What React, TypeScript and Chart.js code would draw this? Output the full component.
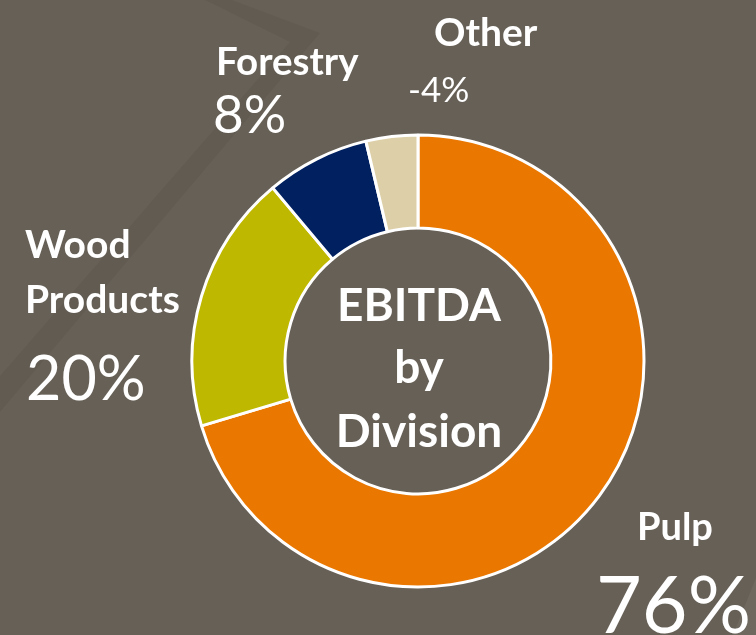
import React, { useEffect, useRef } from "react";
import { Chart, registerables } from "chart.js";

Chart.register(...registerables);

const categories = ["Pulp", "Wood Products", "Forestry", "Other"];
const values = [76, 20, 8, 4];
const percentLabels = ["76%", "20%", "8%", "-4%"];
const sliceColors = ["#E97700", "#BFB800", "#002060", "#DDD0A9"];
const centerLines = ["EBITDA", "by", "Division"];

const W = 756;
const H = 635;
const BG = "#676057";
const FONT = "Lato, 'Open Sans', sans-serif";

export default function App() {
  const canvasRef = useRef<HTMLCanvasElement | null>(null);

  useEffect(() => {
    const canvas = canvasRef.current;
    if (!canvas) return;
    const chart = new Chart(canvas, {
      type: "doughnut",
      data: {
        labels: categories,
        datasets: [
          {
            data: values,
            backgroundColor: sliceColors,
            borderColor: "#FFFFFF",
            borderWidth: 3,
          },
        ],
      },
      options: {
        responsive: false,
        animation: false,
        events: [],
        radius: 226,
        cutout: "58.8%",
        rotation: 0,
        layout: { padding: { left: 80, top: 87, right: 0, bottom: 0 } },
        plugins: {
          legend: { display: false },
          tooltip: { enabled: false },
          title: { display: false },
        },
      } as any,
    });
    return () => chart.destroy();
  }, []);

  const white = "#FFFFFF";

  return (
    <div
      style={{
        position: "fixed",
        left: 0,
        top: 0,
        width: W,
        height: H,
        background: BG,
        overflow: "hidden",
      }}
    >
      <svg
        width={W}
        height={H}
        style={{ position: "absolute", left: 0, top: 0 }}
      >
        <polygon
          points="205,0 232,0 320,33 0,412 0,376 290,42"
          fill="rgba(0,0,0,0.05)"
        />
        <polygon points="756,578 756,635 733,635" fill="rgba(255,255,255,0.05)" />
      </svg>
      <canvas
        ref={canvasRef}
        width={W}
        height={H}
        style={{ position: "absolute", left: 0, top: 0 }}
      />
      <svg
        width={W}
        height={H}
        style={{ position: "absolute", left: 0, top: 0 }}
        fontFamily={FONT}
        fill={white}
      >
        {/* Other */}
        <text x={434} y={46} fontSize={39} fontWeight={700}>
          {categories[3]}
        </text>
        <text x={408} y={102} fontSize={35} fontWeight={400}>
          {percentLabels[3]}
        </text>
        {/* Forestry */}
        <text x={216} y={75} fontSize={38.5} fontWeight={700}>
          {categories[2]}
        </text>
        <text x={213} y={133} fontSize={53} fontWeight={400}>
          {percentLabels[2]}
        </text>
        {/* Wood Products */}
        <text x={25} y={258} fontSize={39} fontWeight={700}>
          Wood
        </text>
        <text x={25} y={313} fontSize={39} fontWeight={700}>
          Products
        </text>
        <text x={26} y={400} fontSize={61} fontWeight={400}>
          {percentLabels[1]}
        </text>
        {/* Pulp */}
        <text x={637} y={540} fontSize={38} fontWeight={700}>
          {categories[0]}
        </text>
        <text x={596} y={633} fontSize={79} fontWeight={400}>
          {percentLabels[0]}
        </text>
        {/* Center */}
        <text x={419} y={321} fontSize={46} fontWeight={700} textAnchor="middle">
          {centerLines[0]}
        </text>
        <text x={419} y={383} fontSize={46} fontWeight={700} textAnchor="middle">
          {centerLines[1]}
        </text>
        <text x={419} y={447} fontSize={46} fontWeight={700} textAnchor="middle">
          {centerLines[2]}
        </text>
      </svg>
    </div>
  );
}
